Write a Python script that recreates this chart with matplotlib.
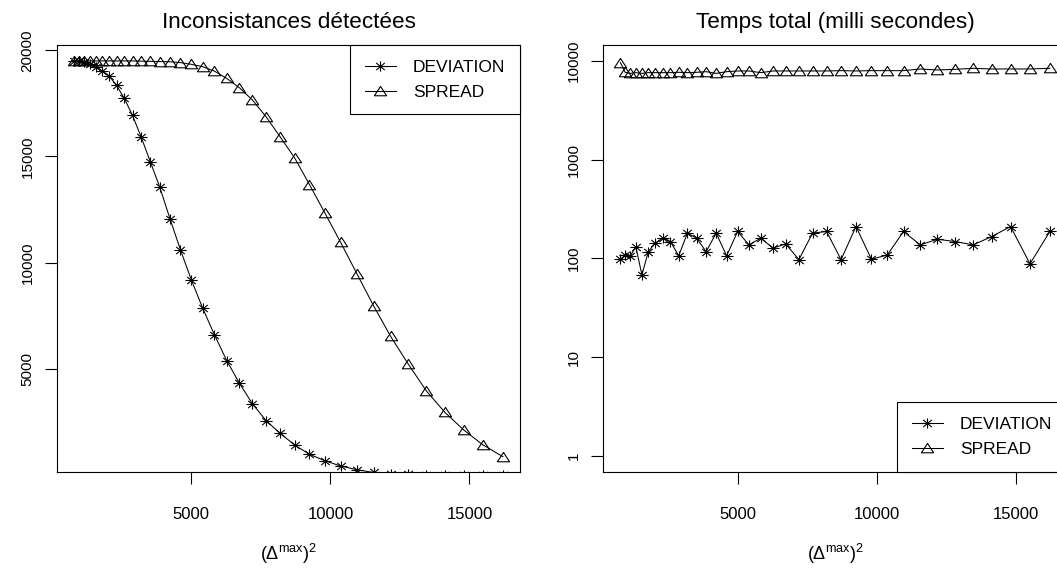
import matplotlib
matplotlib.use("Agg")
import matplotlib.pyplot as plt
from matplotlib.path import Path
from matplotlib.ticker import FixedLocator, FixedFormatter, NullLocator

# ---------------- data ----------------
delta_sq = [800, 968, 1152, 1352, 1568, 1800, 2048, 2312, 2592, 2888, 3200, 3528,
            3872, 4232, 4608, 5000, 5408, 5832, 6272, 6728, 7200, 7688, 8192, 8712,
            9248, 9800, 10368, 10952, 11552, 12168, 12800, 13448, 14112, 14792,
            15488, 16200]

incons_deviation = [19495, 19480, 19430, 19340, 19200, 19024, 18788, 18350, 17736,
                    16934, 15910, 14750, 13540, 12075, 10613, 9198, 7863, 6604,
                    5392, 4326, 3350, 2562, 1967, 1415, 976, 674, 424, 250, 120,
                    55, 25, 10, 4, 2, 1, 0]
incons_spread = [19500, 19500, 19500, 19500, 19500, 19500, 19500, 19500, 19500,
                 19500, 19490, 19480, 19470, 19460, 19420, 19340, 19230, 19020,
                 18680, 18240, 17656, 16870, 15930, 14940, 13680, 12344, 10957,
                 9481, 7971, 6524, 5222, 3962, 2957, 2122, 1415, 863]

time_deviation = [98, 108, 106, 131, 68, 117, 143, 160, 148, 106, 180, 160, 117,
                  180, 106, 187, 137, 160, 127, 140, 97, 180, 187, 97, 210, 98,
                  108, 187, 137, 156, 148, 137, 166, 210, 88, 187]
time_spread = [9600, 7650, 7460, 7585, 7460, 7585, 7585, 7585, 7585, 7650, 7585,
               7650, 7760, 7460, 7760, 7890, 7890, 7585, 7890, 7890, 7890, 7890,
               7890, 7950, 7890, 7950, 7950, 7950, 8265, 8070, 8200, 8390, 8265,
               8265, 8265, 8390]

series_names = ["DEVIATION", "SPREAD"]
left_title = "Inconsistances détectées"
right_title = "Temps total (milli secondes)"
x_label = r"$(\Delta^{\mathrm{max}})^2$"
x_ticks = [5000, 10000, 15000]
left_yticks = [5000, 10000, 15000, 20000]
right_yticks = [1, 10, 100, 1000, 10000]

# ---------------- style ----------------
plt.rcParams["font.family"] = ["Liberation Sans", "DejaVu Sans"]
plt.rcParams["mathtext.fontset"] = "custom"
plt.rcParams["mathtext.rm"] = "Liberation Sans"
plt.rcParams["mathtext.it"] = "Liberation Sans:italic"
plt.rcParams["mathtext.bf"] = "Liberation Sans:bold"

W, H = 1057, 572
fig = plt.figure(figsize=(W / 100, H / 100), dpi=100)

# custom slightly wide markers (R pch 8 and pch 2)
star = Path([(-0.6, 0), (0.6, 0), (0, -0.5), (0, 0.5),
             (-0.42, -0.35), (0.42, 0.35), (-0.42, 0.35), (0.42, -0.35)],
            [Path.MOVETO, Path.LINETO] * 4)
tri = Path([(-0.6, -0.42), (0.6, -0.42), (0, 0.5), (-0.6, -0.42)],
           [Path.MOVETO, Path.LINETO, Path.LINETO, Path.CLOSEPOLY])

ms = 8.8
lw = 0.75

def px_axes(x0, x1, y0, y1):
    return fig.add_axes([x0 / W, 1 - y1 / H, (x1 - x0) / W, (y1 - y0) / H])

def style_axes(ax, ytick_fs):
    for s in ax.spines.values():
        s.set_linewidth(0.8)
        s.set_color("black")
    ax.tick_params(axis="both", direction="out", length=8.5, width=0.8,
                   color="black")
    ax.tick_params(axis="x", labelsize=12, pad=17)
    ax.tick_params(axis="y", labelsize=ytick_fs, pad=8)
    for lab in ax.get_yticklabels():
        lab.set_rotation(90)
        lab.set_va("center")

def plot_series(ax, ys_dev, ys_spr):
    l1, = ax.plot(delta_sq, ys_dev, color="black", lw=lw, marker=star,
                  markersize=ms, markeredgewidth=0.8, markeredgecolor="black")
    l2, = ax.plot(delta_sq, ys_spr, color="black", lw=lw, marker=tri,
                  markersize=ms, markeredgewidth=0.8, markeredgecolor="black",
                  markerfacecolor="none")
    return l1, l2

def add_legend(ax, handles, loc):
    lg = ax.legend(handles, series_names, loc=loc, borderaxespad=0,
                   fancybox=False, edgecolor="black", framealpha=1,
                   fontsize=12.5, handlelength=1.75, handletextpad=1.0,
                   borderpad=0.85, labelspacing=0.55, numpoints=1)
    lg.get_frame().set_linewidth(0.8)
    return lg

xlim = (184, 16816)

# ---------------- left panel ----------------
axL = px_axes(57.3, 520, 45, 471.7)
h1, h2 = plot_series(axL, incons_deviation, incons_spread)
axL.set_xlim(*xlim)
axL.set_ylim(156, 20250)
axL.xaxis.set_major_locator(FixedLocator(x_ticks))
axL.xaxis.set_major_formatter(FixedFormatter([str(v) for v in x_ticks]))
axL.yaxis.set_major_locator(FixedLocator(left_yticks))
axL.yaxis.set_major_formatter(FixedFormatter([str(v) for v in left_yticks]))
style_axes(axL, 11)
axL.set_xlabel(x_label, fontsize=13, labelpad=14)
axL.set_title(left_title, fontsize=16.2, pad=12)
add_legend(axL, [h1, h2], "upper right")

# ---------------- right panel ----------------
axR = px_axes(603.3, 1067, 45, 471.7)
g1, g2 = plot_series(axR, time_deviation, time_spread)
axR.set_yscale("log")
axR.set_xlim(*xlim)
axR.set_ylim(10 ** -0.16, 10 ** 4.16)
axR.xaxis.set_major_locator(FixedLocator(x_ticks))
axR.xaxis.set_major_formatter(FixedFormatter([str(v) for v in x_ticks]))
axR.yaxis.set_major_locator(FixedLocator(right_yticks))
axR.yaxis.set_major_formatter(FixedFormatter([str(v) for v in right_yticks]))
axR.yaxis.set_minor_locator(NullLocator())
style_axes(axR, 11)
axR.set_xlabel(x_label, fontsize=13, labelpad=14)
axR.set_title(right_title, fontsize=16.2, pad=12)
add_legend(axR, [g1, g2], "lower right")

fig.savefig("out.png", dpi=100)
